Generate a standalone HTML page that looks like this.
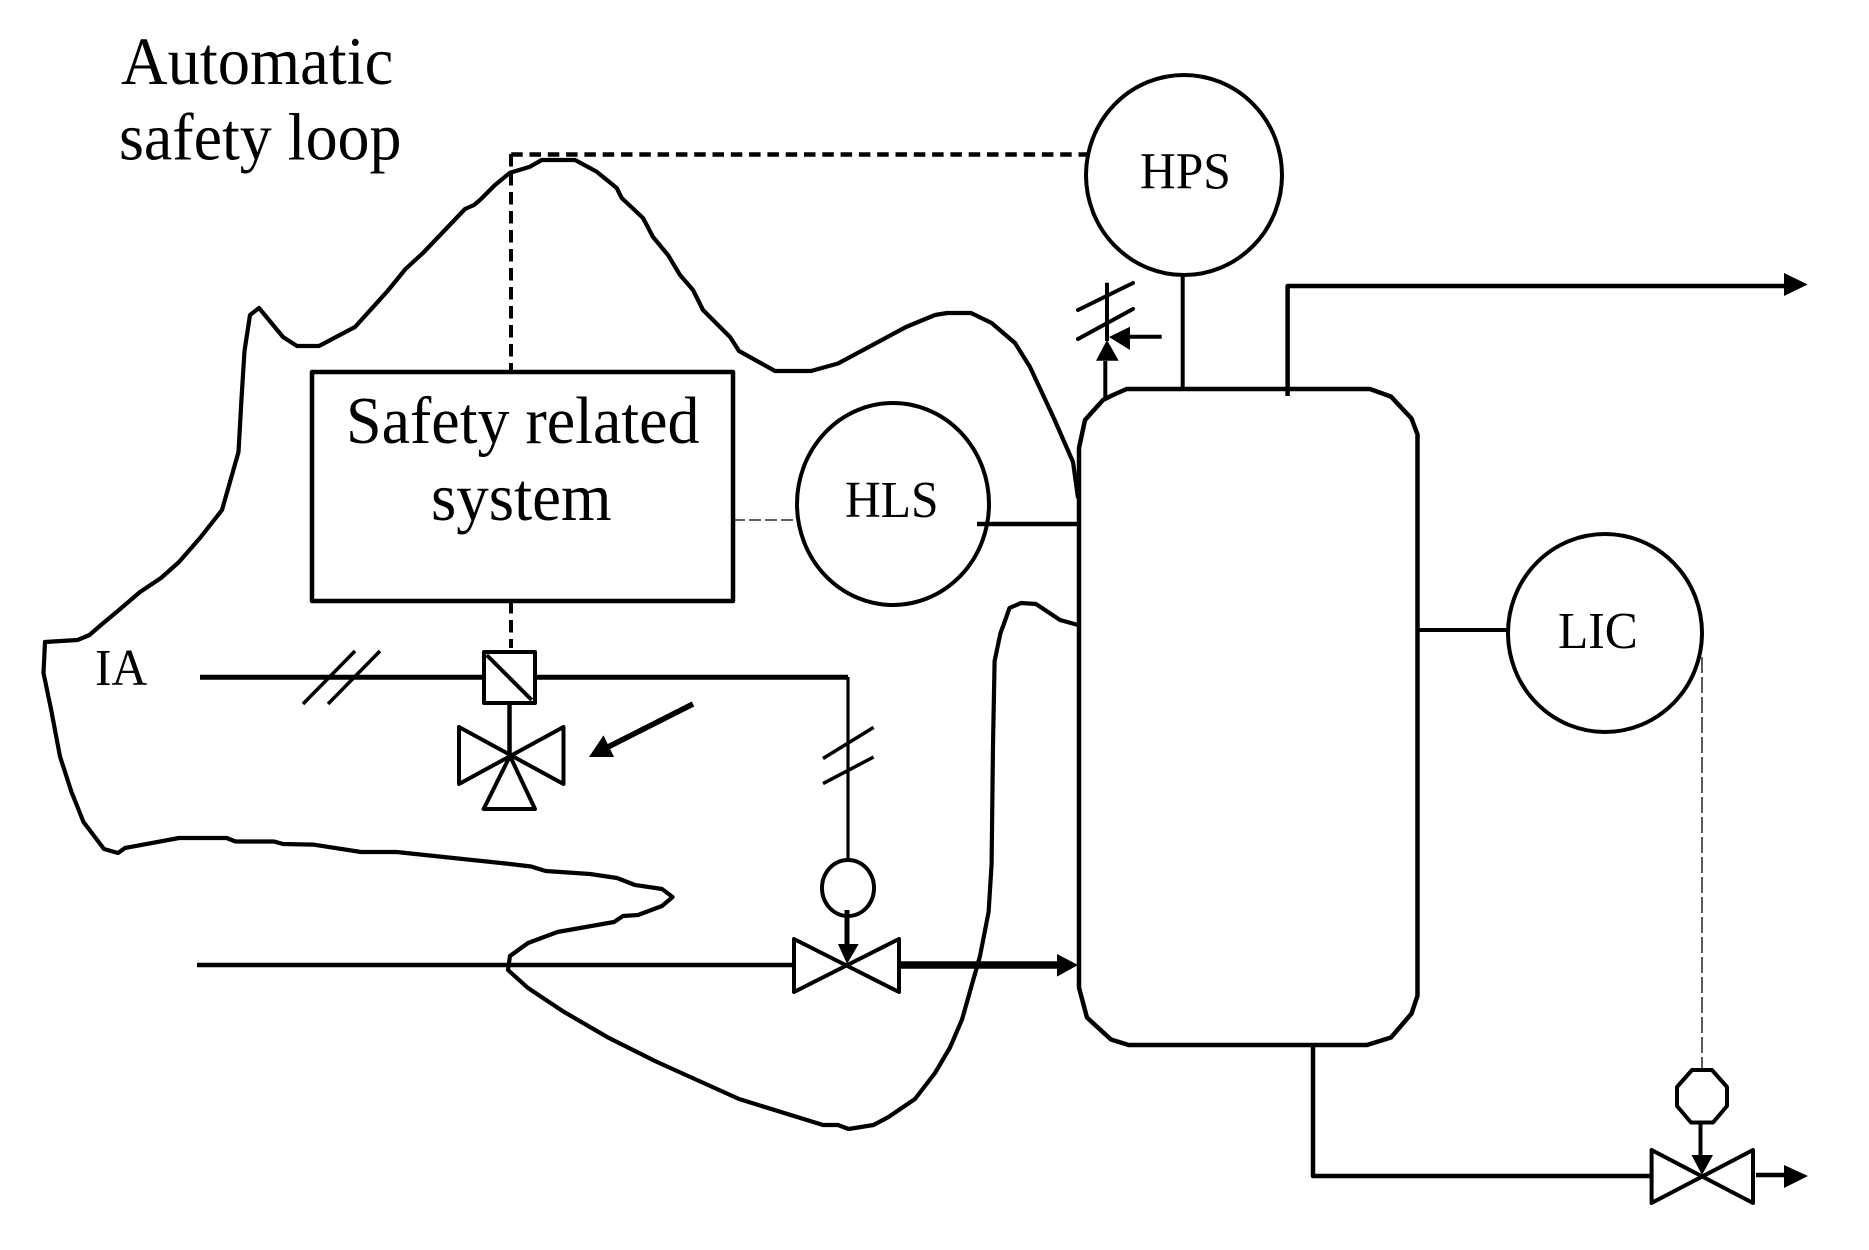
<!DOCTYPE html>
<html>
<head>
<meta charset="utf-8">
<style>
html,body{margin:0;padding:0;background:#fff;}
svg{display:block;}
text{font-family:"Liberation Serif",serif;fill:#000;}
</style>
</head>
<body>
<svg width="1869" height="1250" viewBox="0 0 1869 1250" xmlns="http://www.w3.org/2000/svg">
<rect width="1869" height="1250" fill="#fff"/>
<g fill="none" stroke="#000" stroke-width="4" stroke-linejoin="round">
<!-- blob -->
<path stroke-width="4.2" d="M1078 625L1060 620L1036 604L1021 603L1009.5 608L1003.5 625L1000.5 633L994.6 661L993 744.6L991.6 864L988.6 912L980 956L962 1019.6L950 1047.5L935 1073L915 1099L888.5 1117L873.5 1125L848.5 1129L838 1125L823 1125L739 1099L656 1061.5L608 1037.5L563.5 1011.6L528 988L508 970L510 956L528 943L557.5 932L614 922L623 916L638 915L662 906L672.6 897L662 889L635 885L617 878L590 874L545.6 871L531 866.5L510 864L396.5 852L361 852L313 844.6L283 844L274 841.5L235.5 841.5L226.6 838L179 838L125 848L118 853L104 849L83.5 822L71.5 792L60 756.5L51 709L43.5 673L45 642L77.5 640L89.5 635L101 625L119 610L140 592L161 578L179 562L200 538L222 510L238.5 452L241.5 398.6L244.5 351L250 315L259 308L283 337L297 346L319 346L355 327L387.6 291L405.5 269L423 253L465 209L474 205L480 200L495 185L510 172.7L530 166.7L541.7 160L575 160L596.7 171.7L616.7 188L621.7 198L643 218L653 237L668 255L680 275L693 290L703 310L730 337L739 351L775 371L811 371L838 363.5L906 327L935 315L947 313L971 313L991.6 323L1015 343L1030 367L1054 418.5L1073 462L1078 498"/>
<!-- safety box -->
<rect x="312" y="372" width="421" height="229" stroke-width="4.5"/>
<!-- dashed signal -->
<path d="M1090 154.5H509.5" stroke-width="4.5" stroke-dasharray="11.5 6.8"/>
<path d="M511 154V371" stroke-width="4" stroke-dasharray="12.5 6.5"/>
<path d="M511 601V648" stroke-width="4" stroke-dasharray="12.5 6.5"/>
<path d="M733 520H797" stroke-width="1.3" stroke-dasharray="12 4"/>
<path d="M1702 657V1070" stroke-width="1.3" stroke-dasharray="16 4"/>
<!-- instruments -->
<ellipse cx="893" cy="504" rx="96" ry="101"/>
<ellipse cx="1184" cy="175" rx="98" ry="100"/>
<ellipse cx="1605" cy="633" rx="97" ry="99"/>
<ellipse cx="848" cy="888" rx="26" ry="28"/>
<path d="M1692 1070H1712L1727 1087V1106L1713 1122.5H1691L1677 1106V1087Z"/>
<!-- vessel -->
<path d="M1126.7 389H1370L1391 396.6L1411.5 418.5L1417.5 434.5V995.7L1411.5 1013.6L1391 1037.5L1367 1045H1128.6L1111 1039.5L1087 1017.6L1079 987.7V448L1085 420L1103 400L1113 395Z" stroke-width="4.5"/>
<!-- process lines -->
<path d="M1182.7 275V388"/>
<path d="M1287.6 396V286H1786" stroke-width="4.5"/>
<path d="M1105.3 400V361"/>
<path d="M1107 282.7V341"/>
<path d="M1078 310L1133 283M1078 339L1133 309" stroke-width="4" stroke-linecap="round"/>
<path d="M1161.7 336.7H1128"/>
<path d="M977 524H1079" stroke-width="4.5"/>
<path d="M1417.5 630H1507"/>
<path d="M200 677.3H484M535 677.3H848" stroke-width="5"/>
<path d="M848 677V860" stroke-width="3.2"/>
<path d="M303 704L355 651M328 704L380 651" stroke-width="3.5"/>
<rect x="484" y="652" width="51" height="51"/>
<path d="M486.7 655L531.7 700"/>
<path d="M509.5 704V756" stroke-width="4.5"/>
<path d="M459 727V784L563.5 727V784ZM510 756L483.6 809H535Z"/>
<path d="M693 704L608 747" stroke-width="5.5"/>
<path d="M823 758.5L873.6 727.4M823 783.6L873.6 757" stroke-width="3.5"/>
<path d="M847 910V946" stroke-width="5"/>
<path d="M794 939V992L899 939V992Z"/>
<path d="M197 965H794" stroke-width="4.5"/>
<path d="M900.5 965H1058" stroke-width="7.5"/>
<path d="M1313 1045V1176H1652" stroke-width="4.5"/>
<path d="M1651.6 1150V1203L1753 1150V1203Z"/>
<path d="M1700.5 1122V1157"/>
<path d="M1756 1175H1785" stroke-width="4.5"/>
</g>
<g fill="#000" stroke="none">
<polygon points="1784,273 1807.7,284.5 1784,296"/>
<polygon points="1107,340 1096,360.7 1118.7,360.7"/>
<polygon points="1109,337 1130,326.7 1130,350"/>
<polygon points="589,757 603.5,735.4 614,757"/>
<polygon points="838,944 858.7,944 847,964"/>
<polygon points="1057,954 1078,965 1057,976.6"/>
<polygon points="1691.5,1155 1713,1155 1702,1175"/>
<polygon points="1784,1165 1808,1176 1784,1188"/>
</g>
<text transform="translate(121,84) scale(1,1.05)" font-size="64.5">Automatic</text>
<text transform="translate(119,159.5) scale(1,1.05)" font-size="64">safety loop</text>
<text transform="translate(346,443) scale(1,1.05)" font-size="64">Safety related</text>
<text transform="translate(431,520) scale(1,1.05)" font-size="65">system</text>
<text transform="translate(845,517) scale(1,1.05)" font-size="49.5">HLS</text>
<text transform="translate(1140,188.5) scale(1,1.05)" font-size="49.5">HPS</text>
<text transform="translate(1558,648) scale(1,1.05)" font-size="49.5">LIC</text>
<text transform="translate(95,685) scale(1,1.05)" font-size="49.5">IA</text>
</svg>
</body>
</html>
